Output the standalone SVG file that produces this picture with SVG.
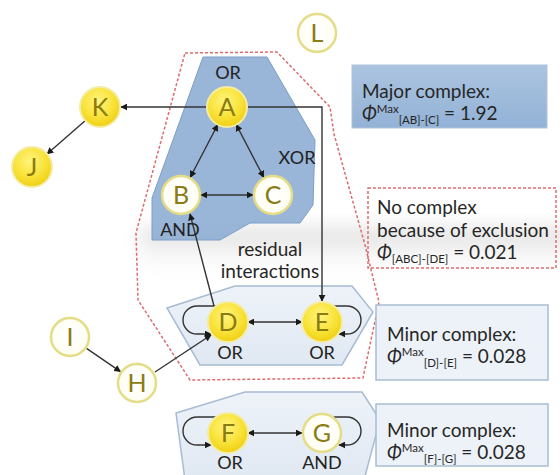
<svg xmlns="http://www.w3.org/2000/svg" width="560" height="475" viewBox="0 0 560 475">
  <defs>
    <radialGradient id="gYellow" cx="45%" cy="35%" r="65%">
      <stop offset="0" stop-color="#fff47e"/>
      <stop offset="0.6" stop-color="#f9e33a"/>
      <stop offset="1" stop-color="#efcf12"/>
    </radialGradient>
    <radialGradient id="gWhite" cx="50%" cy="45%" r="60%">
      <stop offset="0" stop-color="#ffffff"/>
      <stop offset="0.8" stop-color="#fffef4"/>
      <stop offset="1" stop-color="#f8f4cf"/>
    </radialGradient>
    <linearGradient id="gMajor" x1="0" y1="0" x2="0" y2="1">
      <stop offset="0" stop-color="#abc4e0"/>
      <stop offset="1" stop-color="#93b2d6"/>
    </linearGradient>
    <linearGradient id="gHex" x1="0" y1="0" x2="0" y2="1">
      <stop offset="0" stop-color="#eef3f9"/>
      <stop offset="1" stop-color="#e0e8f2"/>
    </linearGradient>
    <linearGradient id="gHaze" x1="0" y1="0" x2="0" y2="1">
      <stop offset="0" stop-color="#cfcfcf"/>
      <stop offset="1" stop-color="#ffffff" stop-opacity="0"/>
    </linearGradient>
    <filter id="haze" x="-20%" y="-80%" width="140%" height="260%">
      <feGaussianBlur stdDeviation="9"/>
    </filter>
    <marker id="ah" viewBox="0 0 10 10" refX="9" refY="5" markerWidth="7" markerHeight="7" markerUnits="userSpaceOnUse" orient="auto-start-reverse">
      <path d="M0,0 L10,5 L0,10 z" fill="#1a1a1a"/>
    </marker>
    <style>
      .node-y { fill: url(#gYellow); stroke: #f3eca2; stroke-width: 2; }
      .node-w { fill: url(#gWhite); stroke: #e4dc86; stroke-width: 2.5; }
      .letter { font-family: Lato, "Open Sans", sans-serif; font-size: 25px; fill: #8a7b12; text-anchor: middle; }
      .gate { font-family: Lato, "Open Sans", sans-serif; font-size: 18px; fill: #222; text-anchor: middle; }
      .lbl { font-family: Lato, "Open Sans", sans-serif; font-size: 19px; fill: #262626; }
      .small { font-size: 11.5px; }
      .phi { font-style: italic; }
      .edge { fill: none; stroke: #333; stroke-width: 1.4; }
      .arrow { marker-end: url(#ah); }
      .both { marker-start: url(#ah); marker-end: url(#ah); }
      .redline { fill: none; stroke: #de6c6c; stroke-width: 1.5; stroke-dasharray: 3 2; }
      .hex { fill: url(#gHex); stroke: #a7bbd2; stroke-width: 1.5; }
      .minorbox { fill: #edf2f8; stroke: #a9bdd4; stroke-width: 1.5; }
    </style>
  </defs>

  <!-- soft grey shading behind the residual-interaction zone -->
  <rect x="140" y="228" width="430" height="50" fill="url(#gHaze)" filter="url(#haze)" opacity="0.8"/>

  <!-- complex regions -->
  <g id="regions">
    <polygon id="major-region" points="203,57 267,57 315,140 313,205 300,223 250,223 220,240 152,240 152,198" fill="#8eaed4" fill-opacity="0.9" stroke="#7d9ec6" stroke-width="1"/>
    <polygon id="minor-region-de" class="hex" points="167,308 235,286 352,286 373,312 342,365 200,365"/>
    <polygon id="minor-region-fg" class="hex" points="176,413 245,392 362,392 380,420 364,480 185,480"/>
    <polygon id="exclusion-boundary" class="redline" points="185,53 277,52 330,107 334,134 365,245 379,302 363,378 190,380 138,300 136,233"/>
  </g>

  <!-- connectors -->
  <g id="connectors">
    <line class="edge arrow" x1="207" y1="107" x2="121" y2="107"/>
    <line class="edge arrow" x1="86" y1="120" x2="47" y2="154"/>
    <path class="edge arrow" d="M247,107 L322,107 L322,301"/>
    <line class="edge both" x1="217.7" y1="124.7" x2="190.3" y2="177.3"/>
    <line class="edge both" x1="236.3" y1="124.7" x2="263.7" y2="177.3"/>
    <line class="edge both" x1="201" y1="195" x2="253" y2="195"/>
    <line class="edge arrow" x1="214" y1="306" x2="190" y2="214"/>
    <line class="edge both" x1="248" y1="322" x2="302" y2="322"/>
    <path class="edge arrow" d="M216,306 L197,306 A14,14 0 0 0 197,334 L211,334"/>
    <path class="edge arrow" d="M334,306 L347,306 A14,14 0 0 1 347,334 L339,334"/>
    <line class="edge arrow" x1="86.5" y1="348.3" x2="120.5" y2="371.7"/>
    <line class="edge arrow" x1="155" y1="372" x2="211" y2="335"/>
    <line class="edge both" x1="248" y1="433" x2="302" y2="433"/>
    <path class="edge arrow" d="M216,417 L197,417 A14,14 0 0 0 197,445 L211,445"/>
    <path class="edge arrow" d="M334,417 L347,417 A14,14 0 0 1 347,445 L339,445"/>
  </g>

  <!-- nodes -->
  <g id="node-K"><circle class="node-y" cx="100" cy="107" r="20"/><text class="letter" x="100" y="116">K</text></g>
  <g id="node-J"><circle class="node-y" cx="32" cy="167" r="20"/><text class="letter" x="32" y="176">J</text></g>
  <g id="node-L"><circle class="node-w" cx="317" cy="33" r="19"/><text class="letter" x="317" y="42">L</text></g>
  <g id="node-A"><circle class="node-y" cx="227" cy="107" r="20"/><text class="letter" x="227" y="116">A</text><text class="gate" x="228" y="79">OR</text></g>
  <g id="node-B"><circle class="node-w" cx="181" cy="195" r="19"/><text class="letter" x="181" y="204">B</text><text class="gate" x="180" y="236">AND</text></g>
  <g id="node-C"><circle class="node-w" cx="273" cy="195" r="19"/><text class="letter" x="273" y="204">C</text><text class="gate" x="297" y="164">XOR</text></g>
  <g id="node-D"><circle class="node-y" cx="228" cy="322" r="20"/><text class="letter" x="228" y="331">D</text><text class="gate" x="230" y="359">OR</text></g>
  <g id="node-E"><circle class="node-y" cx="322" cy="322" r="20"/><text class="letter" x="322" y="331">E</text><text class="gate" x="322" y="359">OR</text></g>
  <g id="node-I"><circle class="node-w" cx="70" cy="337" r="19"/><text class="letter" x="70" y="346">I</text></g>
  <g id="node-H"><circle class="node-w" cx="137" cy="383" r="19"/><text class="letter" x="137" y="392">H</text></g>
  <g id="node-F"><circle class="node-y" cx="228" cy="433" r="20"/><text class="letter" x="228" y="442">F</text><text class="gate" x="230" y="469">OR</text></g>
  <g id="node-G"><circle class="node-w" cx="322" cy="433" r="19"/><text class="letter" x="322" y="442">G</text><text class="gate" x="322" y="469">AND</text></g>

  <!-- residual interactions label -->
  <g id="residual-label">
    <text class="lbl" x="270" y="256" text-anchor="middle">residual</text>
    <text class="lbl" x="270" y="278" text-anchor="middle">interactions</text>
  </g>

  <!-- info boxes -->
  <g id="box-major">
    <rect x="352" y="65" width="195" height="63" fill="url(#gMajor)" stroke="#aec4dc" stroke-width="1"/>
    <text class="lbl" x="362" y="98">Major complex:</text>
    <text class="lbl" x="362" y="120"><tspan class="phi">Φ</tspan><tspan class="small" dy="-7">Max</tspan><tspan class="small" dy="11">[AB]-[C]</tspan><tspan dy="-4"> = 1.92</tspan></text>
  </g>
  <g id="box-exclusion">
    <rect class="redline" x="368" y="188" width="188" height="80"/>
    <text class="lbl" x="377" y="214">No complex</text>
    <text class="lbl" x="377" y="237">because of exclusion</text>
    <text class="lbl" x="377" y="259"><tspan class="phi">Φ</tspan><tspan class="small" dy="4">[ABC]-[DE]</tspan><tspan dy="-4"> = 0.021</tspan></text>
  </g>
  <g id="box-minor-de">
    <rect class="minorbox" x="376" y="305" width="172" height="75"/>
    <text class="lbl" x="387" y="341">Minor complex:</text>
    <text class="lbl" x="387" y="363"><tspan class="phi">Φ</tspan><tspan class="small" dy="-7">Max</tspan><tspan class="small" dy="11">[D]-[E]</tspan><tspan dy="-4"> = 0.028</tspan></text>
  </g>
  <g id="box-minor-fg">
    <rect class="minorbox" x="376" y="404" width="172" height="62"/>
    <text class="lbl" x="387" y="437">Minor complex:</text>
    <text class="lbl" x="387" y="459"><tspan class="phi">Φ</tspan><tspan class="small" dy="-7">Max</tspan><tspan class="small" dy="11">[F]-[G]</tspan><tspan dy="-4"> = 0.028</tspan></text>
  </g>
</svg>
